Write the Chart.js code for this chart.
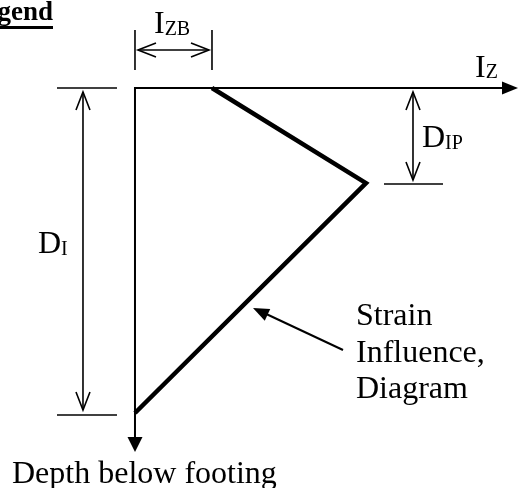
<!DOCTYPE html>
<html>
<head>
<meta charset="utf-8">
<script src="https://cdn.jsdelivr.net/npm/chart.js@4/dist/chart.umd.min.js"></script>
<style>
	html, body { margin: 0; padding: 0; background: #fff; }
	#wrap { width: 519px; height: 488px; position: relative; }
</style>
</head>
<body>
<div id="wrap"><canvas id="chart"></canvas></div>
<script>
	// strain influence diagram (Iz vs depth, depth in arbitrary units)
	var izValues = [0.2, 0.6, 0.0];
	var depthValues = [0.0, 1.17, 4.0];
	var axisLabels = { x: 'I', xSub: 'Z', y: 'Depth below footing' };
	var dimLabels = ['I|ZB', 'D|IP', 'D|I'];
	var noteLines = ['Strain', 'Influence,', 'Diagram'];
	var legendTitle = 'Legend';

	var points = izValues.map(function(v, i) {
		return { x: v, y: depthValues[i] };
	});

	var serif = '"Liberation Serif", "Times New Roman", serif';

	var line = function(ctx, x1, y1, x2, y2) {
		ctx.beginPath();
		ctx.moveTo(x1, y1);
		ctx.lineTo(x2, y2);
		ctx.stroke();
	};

	// open chevron head, tip at (x,y), pointing along angle a
	var openHead = function(ctx, x, y, a) {
		var len = 18, half = 7;
		var bx = x - len * Math.cos(a), by = y - len * Math.sin(a);
		var nx = -Math.sin(a) * half, ny = Math.cos(a) * half;
		ctx.beginPath();
		ctx.moveTo(bx + nx, by + ny);
		ctx.lineTo(x, y);
		ctx.lineTo(bx - nx, by - ny);
		ctx.stroke();
	};

	var filledHead = function(ctx, x, y, a, len, half) {
		var bx = x - len * Math.cos(a), by = y - len * Math.sin(a);
		var nx = -Math.sin(a) * half, ny = Math.cos(a) * half;
		ctx.beginPath();
		ctx.moveTo(x, y);
		ctx.lineTo(bx + nx, by + ny);
		ctx.lineTo(bx - nx, by - ny);
		ctx.closePath();
		ctx.fill();
	};

	// main text + subscript, given as "I|ZB"
	var subText = function(ctx, label, x, y) {
		var parts = label.split('|');
		ctx.font = '32px ' + serif;
		ctx.fillText(parts[0], x, y);
		var w = ctx.measureText(parts[0]).width;
		ctx.font = '20px ' + serif;
		ctx.fillText(parts[1], x + w, y + 2);
	};

	var diagramPlugin = {
		id: 'diagram',
		beforeDatasetsDraw: function(chart) {
			var ctx = chart.ctx;
			var xs = chart.scales.x, ys = chart.scales.y;
			var x0 = xs.getPixelForValue(0), y0 = ys.getPixelForValue(0);
			var right = chart.chartArea.right - 1;
			var bottom = ys.getPixelForValue(4.48);
			ctx.save();
			ctx.strokeStyle = '#000';
			ctx.fillStyle = '#000';
			ctx.lineWidth = 2;
			line(ctx, x0, y0, right - 10, y0);
			line(ctx, x0, y0 - 1, x0, bottom - 10);
			filledHead(ctx, right, y0, 0, 16, 6.5);
			filledHead(ctx, x0, bottom, Math.PI / 2, 15, 7.5);
			ctx.restore();
		},
		afterDatasetsDraw: function(chart) {
			var ctx = chart.ctx;
			var xs = chart.scales.x, ys = chart.scales.y;
			var x0 = xs.getPixelForValue(0), y0 = ys.getPixelForValue(0);
			var xb = xs.getPixelForValue(izValues[0]);
			var xp = xs.getPixelForValue(izValues[1]);
			var yp = ys.getPixelForValue(depthValues[1]);
			var yi = ys.getPixelForValue(depthValues[2]);
			ctx.save();
			ctx.strokeStyle = '#000';
			ctx.fillStyle = '#000';
			ctx.lineWidth = 1.6;
			ctx.textBaseline = 'alphabetic';

			// I_ZB dimension
			var yd = y0 - 38;
			line(ctx, x0, y0 - 58, x0, y0 - 18);
			line(ctx, xb, y0 - 58, xb, y0 - 18);
			line(ctx, x0 + 3, yd, xb - 3, yd);
			openHead(ctx, x0 + 3, yd, Math.PI);
			openHead(ctx, xb - 3, yd, 0);
			subText(ctx, dimLabels[0], x0 + 19, y0 - 55);

			// D_I dimension
			var xd = x0 - 52;
			line(ctx, xd - 26, y0, xd + 34, y0);
			line(ctx, xd - 26, yi + 2, xd + 34, yi + 2);
			line(ctx, xd, y0 + 4, xd, yi - 3);
			openHead(ctx, xd, y0 + 4, -Math.PI / 2);
			openHead(ctx, xd, yi - 3, Math.PI / 2);
			subText(ctx, dimLabels[2], xd - 45, y0 + 165);

			// D_IP dimension
			var xq = xp + 47;
			line(ctx, xp + 18, yp + 1, xp + 77, yp + 1);
			line(ctx, xq, y0 + 4, xq, yp - 3);
			openHead(ctx, xq, y0 + 4, -Math.PI / 2);
			openHead(ctx, xq, yp - 3, Math.PI / 2);
			subText(ctx, dimLabels[1], xq + 9, y0 + 59);

			// Iz axis label
			ctx.font = '32px ' + serif;
			ctx.fillText(axisLabels.x, x0 + 340, y0 - 11);
			var w = ctx.measureText(axisLabels.x).width;
			ctx.font = '20px ' + serif;
			ctx.fillText(axisLabels.xSub, x0 + 340 + w, y0 - 10);

			// depth axis label
			ctx.font = '32px ' + serif;
			ctx.fillText(axisLabels.y, 12, 483);

			// note with leader arrow
			ctx.lineWidth = 2;
			line(ctx, 343, 350, 262, 312);
			filledHead(ctx, 253, 308, Math.atan2(308 - 350, 253 - 343), 16, 6.5);
			ctx.font = '32px ' + serif;
			noteLines.forEach(function(t, i) {
				ctx.fillText(t, 356, 325 + i * 36.5);
			});

			// clipped legend heading
			ctx.font = 'bold 27px ' + serif;
			ctx.textAlign = 'right';
			ctx.fillText(legendTitle, 53, 20);
			ctx.fillRect(0, 26, 53, 3);
			ctx.restore();
		}
	};

	var ctx = document.getElementById('chart');
	var chart = new Chart(ctx, {
		type: 'scatter',
		data: {
			datasets: [{
				label: 'Strain Influence Diagram',
				data: points,
				showLine: true,
				borderColor: '#000',
				backgroundColor: '#000',
				borderWidth: 4.5,
				borderJoinStyle: 'miter',
				borderCapStyle: 'butt',
				pointRadius: 0,
				tension: 0,
				clip: false
			}]
		},
		options: {
			responsive: true,
			maintainAspectRatio: false,
			animation: false,
			layout: { padding: 0 },
			plugins: {
				legend: { display: false },
				tooltip: { enabled: false },
				title: { display: false }
			},
			scales: {
				x: { type: 'linear', display: false, min: -0.3506, max: 0.9974 },
				y: { type: 'linear', display: false, reverse: true, min: -1.083, max: 4.923 }
			}
		},
		plugins: [diagramPlugin]
	});
</script>
</body>
</html>
